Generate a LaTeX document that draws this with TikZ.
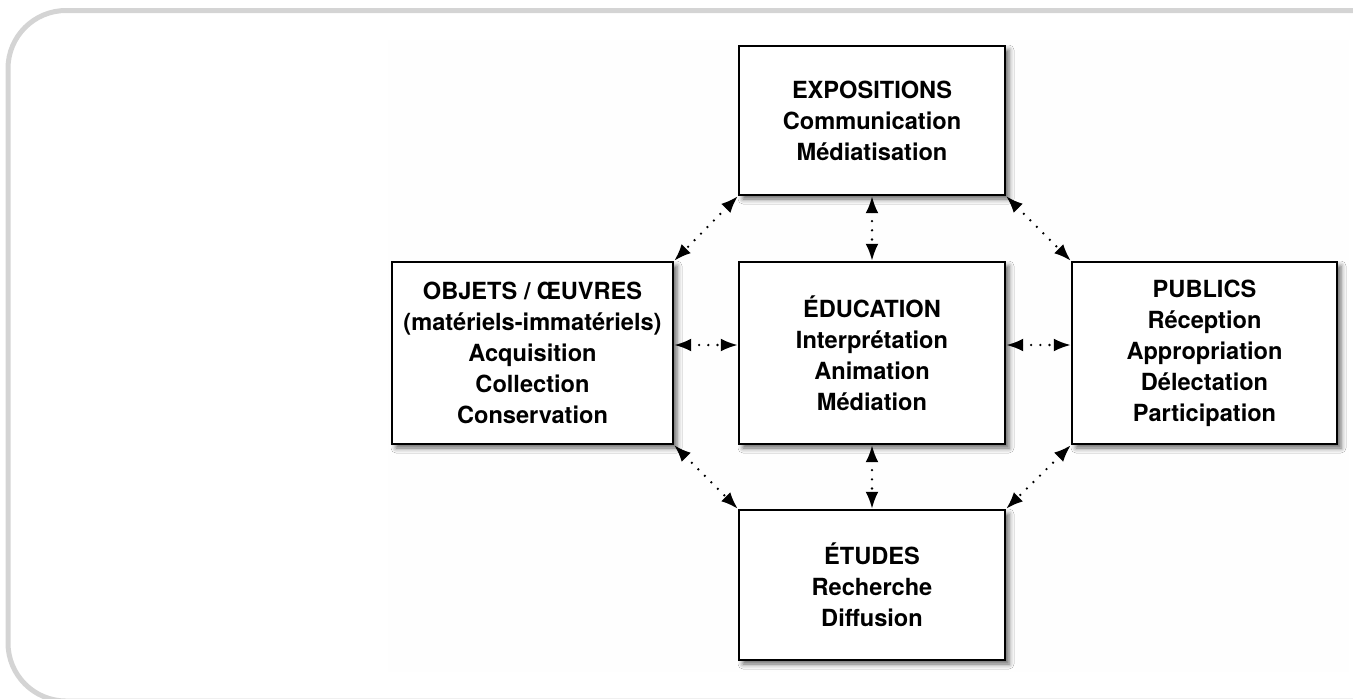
\documentclass[tikz,border=0pt]{standalone}
\usepackage{fontspec}
\setmainfont{TeX Gyre Heros}
\usetikzlibrary{arrows.meta,shadows.blur}
\tikzset{bx/.style = {rectangle, draw, line width=1.2pt, fill=white, inner sep=0pt, align=center,
                      font=\bfseries\fontsize{11.8}{15.5}\selectfont,
                      blur shadow={shadow xshift=2pt, shadow yshift=-2pt, shadow blur radius=2.5pt, shadow opacity=60}},
         ln/.style = {<->, line width=1.3pt, dash pattern=on 0pt off 4.6pt, line cap=round}}

\begin{document}
\begin{tikzpicture}[x=0.5pt, y=-0.5pt, >={Latex[length=8.5pt,width=6.5pt]}]
    \useasboundingbox (0,0) rectangle (1353,698);
    \fill[black!0.4] (388,40) rectangle (1349,672);
    \draw[black!17, line width=2.5pt, rounded corners=29pt] (8,10.5) rectangle (1430,701);
    \node[bx, minimum width=133pt,   minimum height=74.5pt] (expo) at (872,120.5)  {EXPOSITIONS\\Communication\\Médiatisation};
    \node[bx, minimum width=133pt,   minimum height=91pt]   (educ) at (872,353)    {ÉDUCATION\\Interprétation\\Animation\\Médiation};
    \node[bx, minimum width=140.5pt, minimum height=91pt]   (objt) at (532.5,353)  {OBJETS / ŒUVRES\\(matériels-immatériels)\\Acquisition\\Collection\\Conservation};
    \node[bx, minimum width=132.5pt, minimum height=91pt]   (publ) at (1204.5,353) {PUBLICS\\Réception\\Appropriation\\Délectation\\Participation};
    \node[bx, minimum width=133pt,   minimum height=75pt]   (etud) at (872,585)    {ÉTUDES\\Recherche\\Diffusion};
    \draw[ln] (expo.south west) -- (objt.north east);
    \draw[ln] (expo.south east) -- (publ.north west);
    \draw[ln] (expo.south) -- (educ.north);
    \draw[ln] ([yshift=4pt]objt.east) -- ([yshift=4pt]educ.west);
    \draw[ln] ([yshift=4pt]educ.east) -- ([yshift=4pt]publ.west);
    \draw[ln] (educ.south) -- (etud.north);
    \draw[ln] (objt.south east) -- (etud.north west);
    \draw[ln] (publ.south west) -- (etud.north east);
\end{tikzpicture}
\end{document}
